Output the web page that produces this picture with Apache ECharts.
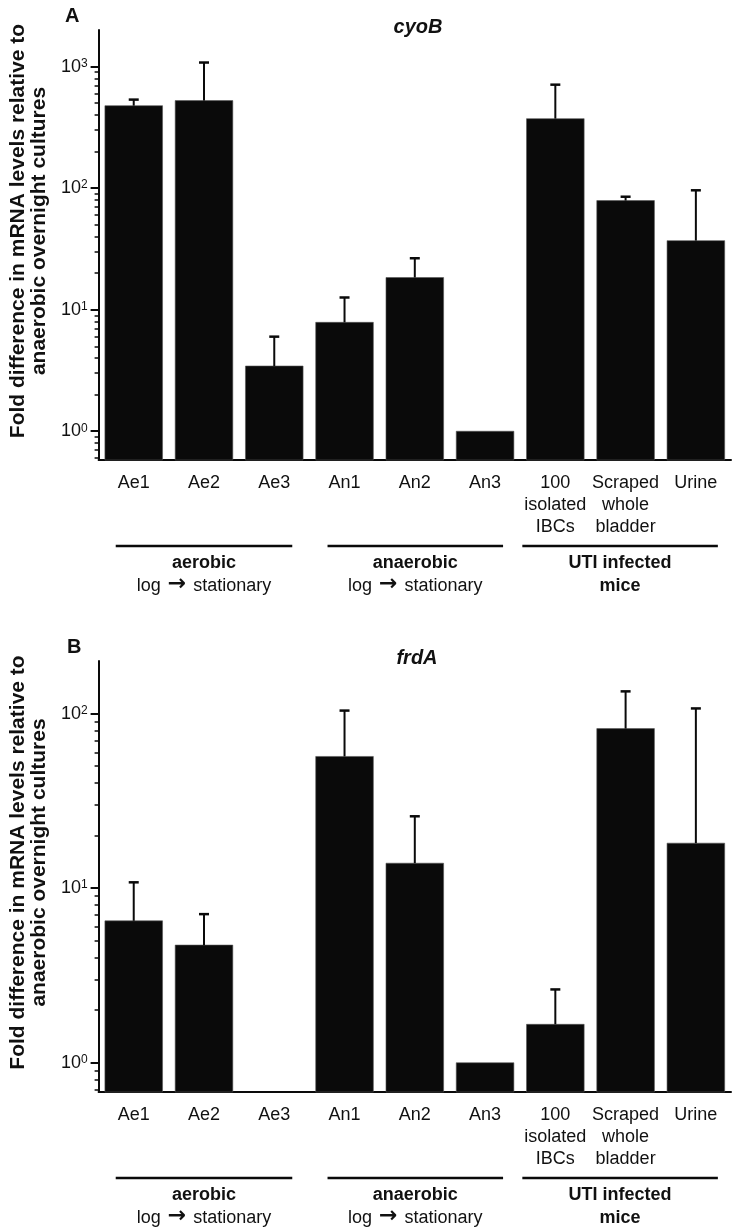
<!DOCTYPE html>
<html>
<head>
<meta charset="utf-8">
<script src="https://cdn.jsdelivr.net/npm/echarts@6/dist/echarts.min.js"></script>
<style>
html,body{margin:0;padding:0;background:#fff;}
#chart{width:733px;height:1229px;}
</style>
</head>
<body>
<div id="chart"></div>
<script>
// ---- data ----
const categories = ['Ae1', 'Ae2', 'Ae3', 'An1', 'An2', 'An3', '100\nisolated\nIBCs', 'Scraped\nwhole\nbladder', 'Urine'];
const cyoBValues = [477, 525, 3.44, 7.87, 18.4, 1, 373, 79, 37];
const cyoBErrTop = [535, 1080, 6.0, 12.6, 26.5, null, 710, 85, 96];
const frdAValues = [6.5, 4.72, null, 56.8, 13.9, 1, 1.66, 82, 18.1];
const frdAErrTop = [10.8, 7.1, null, 104, 25.8, null, 2.63, 134, 107];

const majorTicksA = [1, 10, 100, 1000];
const minorTicksA = [0.6, 0.7, 0.8, 0.9, 2, 3, 4, 5, 6, 7, 8, 9, 20, 30, 40, 50, 60, 70, 80, 90, 200, 300, 400, 500, 600, 700, 800, 900];
const majorTicksB = [1, 10, 100];
const minorTicksB = [0.7, 0.8, 0.9, 2, 3, 4, 5, 6, 7, 8, 9, 20, 30, 40, 50, 60, 70, 80, 90];

const groupNames = ['aerobic', 'anaerobic', 'UTI infected'];
const groupSubs = ['log {a|\u2192} stationary', 'log {a|\u2192} stationary', 'mice'];
const groupFrom = [0, 3, 6];
const groupTo = [2, 5, 8];

// ---- styles ----
const FONT = "'Liberation Sans', Arial, Helvetica, sans-serif";
const INK = '#0a0a0a';
const groupPadL = [18, 17, 33];
const groupPadR = [18, 18, 22];
const groupSubBold = [false, false, true];

const chart = echarts.init(document.getElementById('chart'), null, {renderer: 'canvas'});

function supLabel(v) {
  const e = Math.round(Math.log10(v));
  return '10{s|' + e + '}';
}

function makeXAxis(gi) {
  return {
    type: 'category', gridIndex: gi, data: categories,
    axisLine: {lineStyle: {color: INK, width: 2}},
    axisTick: {alignWithLabel: true, length: 7, lineStyle: {color: INK, width: 2}},
    axisLabel: {color: '#111', fontFamily: FONT, fontSize: 18, lineHeight: 22, margin: 12, interval: 0}
  };
}

function makeYAxes(gi, min, max, major, minor) {
  return [{
    type: 'log', gridIndex: gi, min: min, max: max, position: 'left',
    name: 'Fold difference in mRNA levels relative to\nanaerobic overnight cultures',
    nameLocation: 'middle', nameGap: 47, nameRotate: 90,
    nameTextStyle: {fontFamily: FONT, fontSize: 21, fontWeight: 'bold', color: '#111', lineHeight: 21, padding: [0, 0, 0, 28]},
    axisLine: {show: true, lineStyle: {color: INK, width: 2}},
    axisTick: {show: true, length: 8, customValues: major, lineStyle: {color: INK, width: 2}},
    axisLabel: {
      customValues: major, margin: 11, color: '#111', fontFamily: FONT, fontSize: 18,
      formatter: supLabel,
      rich: {s: {fontSize: 12, fontFamily: FONT, color: '#111', verticalAlign: 'top', lineHeight: 10, padding: [0, 0, 6, 0]}}
    },
    splitLine: {show: false}, minorTick: {show: false}
  }, {
    type: 'log', gridIndex: gi, min: min, max: max, position: 'left',
    axisLine: {show: false},
    axisTick: {show: true, length: 4, customValues: minor, lineStyle: {color: INK, width: 1.5}},
    axisLabel: {show: false},
    splitLine: {show: false}
  }];
}

function barSeries(xi, yi, values) {
  return {
    type: 'custom', xAxisIndex: xi, yAxisIndex: yi,
    data: values.map((v, i) => [i, v]),
    encode: {x: 0, y: 1},
    renderItem: function (params, api) {
      const v = api.value(1);
      if (v == null || isNaN(v)) return null;
      const cs = params.coordSys;
      const top = api.coord([api.value(0), v]);
      const w = api.size([1, v])[0] * 0.82;
      const base = cs.y + cs.height;
      return {type: 'rect', shape: {x: top[0] - w / 2, y: top[1], width: w, height: base - top[1]},
              style: {fill: INK, stroke: '#555', lineWidth: 0.6}};
    }
  };
}

function errSeries(xi, yi, values, tops) {
  return {
    type: 'custom', xAxisIndex: xi, yAxisIndex: yi,
    data: values.map((v, i) => [i, v, tops[i]]),
    encode: {x: 0, y: [1, 2]},
    renderItem: function (params, api) {
      const v = api.value(1), t = api.value(2);
      if (v == null || isNaN(v) || t == null || isNaN(t)) return null;
      const p0 = api.coord([api.value(0), v]);
      const p1 = api.coord([api.value(0), t]);
      const cap = 5;
      return {type: 'group', children: [
        {type: 'line', shape: {x1: p0[0], y1: p0[1], x2: p1[0], y2: p1[1]}, style: {stroke: INK, lineWidth: 2}},
        {type: 'line', shape: {x1: p1[0] - cap, y1: p1[1], x2: p1[0] + cap, y2: p1[1]}, style: {stroke: INK, lineWidth: 2.5}}
      ]};
    }
  };
}

function groupSeries(xi, yi) {
  return {
    type: 'custom', xAxisIndex: xi, yAxisIndex: yi, clip: false, silent: true,
    data: groupNames.map((n, i) => [groupFrom[i], groupTo[i], i]),
    encode: {x: [0, 1]},
    renderItem: function (params, api) {
      const cs = params.coordSys;
      const gi = api.value(2);
      const a = api.coord([api.value(0), 1])[0] - groupPadL[gi];
      const b = api.coord([api.value(1), 1])[0] + groupPadR[gi];
      const yLine = cs.y + cs.height + 86;
      const cx = (a + b) / 2;
      return {type: 'group', children: [
        {type: 'line', shape: {x1: a, y1: yLine, x2: b, y2: yLine}, style: {stroke: INK, lineWidth: 2.5}},
        {type: 'text', style: {text: groupNames[gi], x: cx, y: yLine + 17, align: 'center', verticalAlign: 'middle',
          font: 'bold 18px ' + FONT, fill: '#111'}},
        {type: 'text', style: {text: groupSubs[gi], x: cx, y: yLine + 40, align: 'center', verticalAlign: 'middle',
          fontFamily: FONT, fontSize: 18, fontWeight: groupSubBold[gi] ? 'bold' : 'normal', fill: '#111',
          lineHeight: 22,
          rich: {a: {fontFamily: "'DejaVu Sans'", fontSize: 22, fontWeight: 'bold', fill: '#111', lineHeight: 22,
                     verticalAlign: 'middle', padding: [0, 2, 3, 2]}}}}
      ]};
    }
  };
}

const yA = makeYAxes(0, 0.58, 2000, majorTicksA, minorTicksA);
const yB = makeYAxes(1, 0.68, 200, majorTicksB, minorTicksB);

const option = {
  backgroundColor: '#fff',
  animation: false,
  title: [
    {text: 'A', left: 60, top: 1, textStyle: {fontFamily: FONT, fontSize: 20, fontWeight: 'bold', color: '#111'}},
    {text: 'cyoB', left: 413, top: 12, textAlign: 'center', textStyle: {fontFamily: FONT, fontSize: 20, fontWeight: 'bold', fontStyle: 'italic', color: '#111'}},
    {text: 'B', left: 62, top: 632, textStyle: {fontFamily: FONT, fontSize: 20, fontWeight: 'bold', color: '#111'}},
    {text: 'frdA', left: 412, top: 643, textAlign: 'center', textStyle: {fontFamily: FONT, fontSize: 20, fontWeight: 'bold', fontStyle: 'italic', color: '#111'}}
  ],
  grid: [
    {left: 96, top: 30, width: 635, height: 430},
    {left: 95, top: 661, width: 636, height: 431}
  ],
  xAxis: [makeXAxis(0), makeXAxis(1)],
  yAxis: [yA[0], yA[1], yB[0], yB[1]],
  series: [
    barSeries(0, 0, cyoBValues),
    errSeries(0, 0, cyoBValues, cyoBErrTop),
    groupSeries(0, 0),
    barSeries(1, 2, frdAValues),
    errSeries(1, 2, frdAValues, frdAErrTop),
    groupSeries(1, 2)
  ]
};
chart.setOption(option);
</script>
</body>
</html>
